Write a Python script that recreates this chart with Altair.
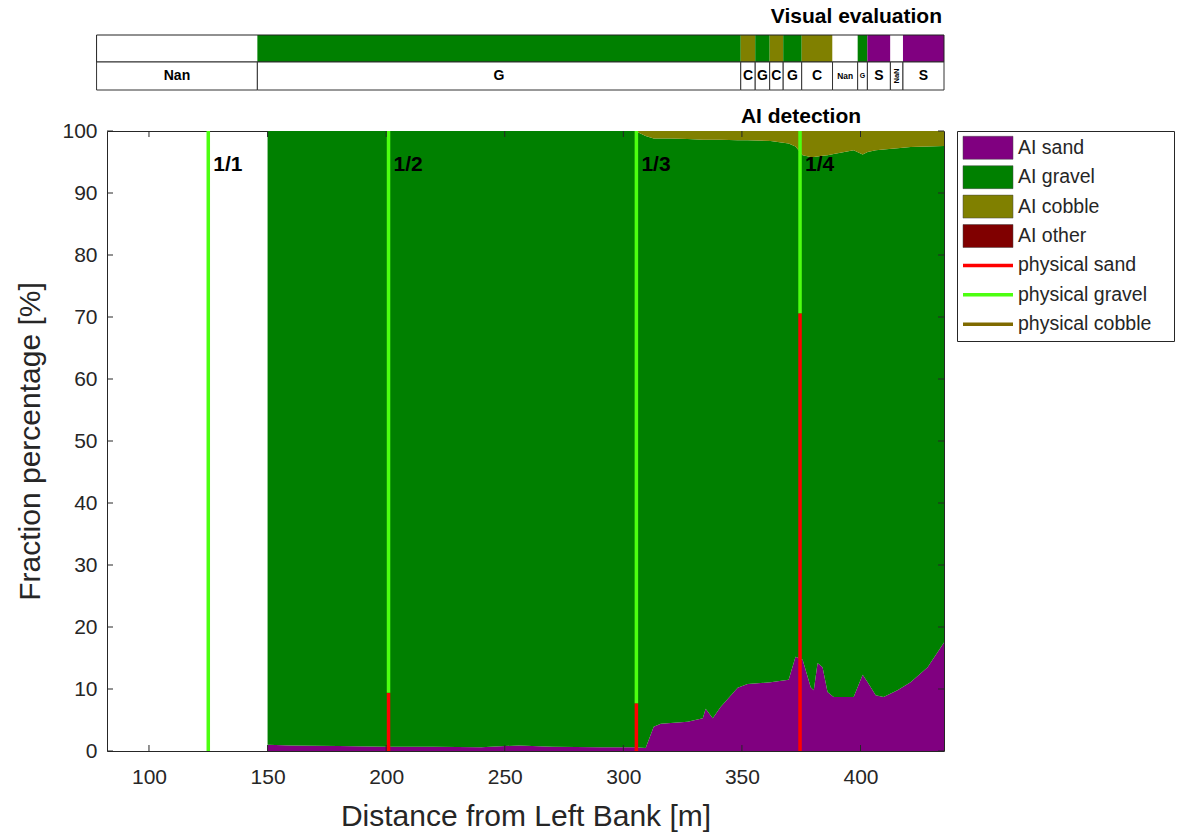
import altair as alt
import pandas as pd

# ---------------- data ----------------
# AI detection profile (percent of each class along the cross-section)
dist = [150, 160, 180, 200, 220, 240, 256, 270, 290, 305,
        309.4, 312.8, 315.8, 320, 327.1, 333.5, 334.7, 337.7, 341, 348.2,
        352.4, 362.1, 369.7, 372.6, 375.6, 379, 380.3, 381.9, 384, 386.1,
        388.7, 397.1, 400.9, 403, 406.4, 409.7, 415.6, 421.1, 428.3, 435.2]
ai_sand = [1.0, 0.9, 0.8, 0.7, 0.7, 0.6, 0.9, 0.7, 0.6, 0.6,
           0.5, 3.9, 4.4, 4.5, 4.7, 5.3, 6.8, 5.3, 7.1, 10.2,
           10.8, 11.1, 11.5, 15.2, 14.7, 10.3, 9.8, 14.2, 13.5, 9.5,
           8.7, 8.7, 12.3, 11.1, 9.0, 8.7, 9.8, 11.1, 13.5, 17.5]
ai_cobble = [0, 0, 0, 0, 0, 0, 0, 0, 0, 0,
             0.8, 1.2, 1.2, 1.2, 1.3, 1.4, 1.4, 1.4, 1.4, 1.5,
             1.5, 1.6, 2.0, 2.5, 3.9, 4.2, 4.2, 4.1, 4.0, 3.9,
             3.7, 3.1, 3.8, 3.4, 3.1, 3.0, 2.8, 2.6, 2.5, 2.4]

# physical samples
sample_pos = [125.0, 201.0, 305.5, 374.5]
sample_name = ["1/1", "1/2", "1/3", "1/4"]
phys_sand = [0.0, 9.4, 7.7, 70.6]
phys_gravel = [100.0, 90.6, 92.3, 29.4]
phys_cobble = [0.0, 0.0, 0.0, 0.0]

# visual evaluation strip
vis_start = [77.9, 145.7, 349.5, 355.6, 361.7, 367.4, 375.2, 388.2, 398.8, 402.9, 412.6, 417.9]
vis_end = [145.7, 349.5, 355.6, 361.7, 367.4, 375.2, 388.2, 398.8, 402.9, 412.6, 417.9, 435.2]
vis_class = ["Nan", "G", "C", "G", "C", "G", "C", "Nan", "G", "S", "NaN", "S"]

legend_labels = ["AI sand", "AI gravel", "AI cobble", "AI other",
                 "physical sand", "physical gravel", "physical cobble"]
legend_colors = ["#800080", "#008000", "#808000", "#800000",
                 "#ff0000", "#4dff10", "#7f6a00"]
vis_classes = ["G", "C", "S", "Nan", "NaN"]
vis_colors = ["#008000", "#808000", "#800080", "#ffffff", "#ffffff"]

x_ticks = [100, 150, 200, 250, 300, 350, 400]
y_ticks = [0, 10, 20, 30, 40, 50, 60, 70, 80, 90, 100]

# ---------------- layout constants ----------------
W, H = 837, 620
X_MIN, X_MAX = 82.3, 435.2
FONT = "Liberation Sans"
INK = "#262626"
PX_PER_M = W / (X_MAX - X_MIN)

# ---------------- tables ----------------
ai_gravel = [100 - s - c for s, c in zip(ai_sand, ai_cobble)]
rows = []
for cls, o, vals in [("AI sand", 0, ai_sand), ("AI gravel", 1, ai_gravel), ("AI cobble", 2, ai_cobble)]:
    for d, v in zip(dist, vals):
        rows.append({"dist": d, "frac": v, "cls": cls, "ord": o})
ai_df = pd.DataFrame(rows)

prow = []
for p, s, g, c in zip(sample_pos, phys_sand, phys_gravel, phys_cobble):
    lo = 0.0
    for cls, v in [("physical sand", s), ("physical gravel", g), ("physical cobble", c)]:
        if v > 0:
            prow.append({"pos": p, "lo": lo, "hi": lo + v, "cls": cls})
        lo += v
phys_df = pd.DataFrame(prow)
sample_df = pd.DataFrame({"pos": sample_pos, "name": sample_name})

vrows = []
for a, b, c in zip(vis_start, vis_end, vis_class):
    wpx = (b - a) * PX_PER_M
    ang = 0
    if len(c) == 1:
        fs = 14 if wpx >= 12 else 7
    elif wpx < 16:
        fs, ang = 7.5, 270
    else:
        fs = min(14, wpx / len(c))
    vrows.append({"start": a, "end": b, "mid": (a + b) / 2, "cls": c, "fs": fs, "ang": ang})
vis_df = pd.DataFrame(vrows)
vis_box = pd.DataFrame({"start": [min(vis_start)], "end": [max(vis_end)]})

# ---------------- scales / axes ----------------
xs = alt.Scale(domain=[X_MIN, X_MAX], nice=False, zero=False)
ys = alt.Scale(domain=[0, 100], nice=False, zero=True)
color_scale = alt.Scale(domain=legend_labels, range=legend_colors)

x_axis = alt.Axis(values=x_ticks, title="Distance from Left Bank [m]", ticks=False, domain=False,
                  grid=False, labelFontSize=21, titleFontSize=30, labelColor=INK, titleColor=INK,
                  labelFont=FONT, titleFont=FONT, titleFontWeight="normal", labelPadding=15,
                  titlePadding=14)
y_axis = alt.Axis(values=y_ticks, title="Fraction percentage [%]", ticks=False, domain=False,
                  grid=False, labelFontSize=21, titleFontSize=30, labelColor=INK, titleColor=INK,
                  labelFont=FONT, titleFont=FONT, titleFontWeight="normal", labelPadding=10,
                  titlePadding=16)

# ---------------- main panel ----------------
areas = alt.Chart(ai_df).mark_area(interpolate="linear").encode(
    x=alt.X("dist:Q", scale=xs, axis=x_axis),
    y=alt.Y("frac:Q", stack="zero", scale=ys, axis=y_axis),
    color=alt.Color("cls:N", scale=color_scale, legend=None),
    order=alt.Order("ord:Q"),
)

phys = alt.Chart(phys_df).mark_rule(strokeWidth=3.5).encode(
    x=alt.X("pos:Q", scale=xs),
    y=alt.Y("lo:Q", scale=ys),
    y2="hi:Q",
    color=alt.Color("cls:N", scale=color_scale, legend=None),
)

sample_lbl = alt.Chart(sample_df).mark_text(
    align="left", baseline="middle", dx=5, fontSize=21, fontWeight="bold", color="black", font=FONT
).encode(x=alt.X("pos:Q", scale=xs), y=alt.value(34), text="name:N")

xt = pd.DataFrame({"t": x_ticks})
yt = pd.DataFrame({"t": y_ticks})
tick_b = alt.Chart(xt).mark_rule(color=INK).encode(
    x=alt.X("t:Q", scale=xs), y=alt.value(H), y2=alt.value(H - 6))
tick_t = alt.Chart(xt).mark_rule(color=INK).encode(
    x=alt.X("t:Q", scale=xs), y=alt.value(0), y2=alt.value(6))
tick_l = alt.Chart(yt).mark_rule(color=INK).encode(
    y=alt.Y("t:Q", scale=ys), x=alt.value(0), x2=alt.value(6))
tick_r = alt.Chart(yt).mark_rule(color=INK).encode(
    y=alt.Y("t:Q", scale=ys), x=alt.value(W), x2=alt.value(W - 6))

# visual evaluation strip above the plot
strip_fill = alt.Chart(vis_df).mark_rect(strokeWidth=0).encode(
    x=alt.X("start:Q", scale=xs), x2="end:Q",
    y=alt.value(-96), y2=alt.value(-69),
    fill=alt.Fill("cls:N", scale=alt.Scale(domain=vis_classes, range=vis_colors), legend=None),
)
strip_box = alt.Chart(vis_box).mark_rect(fillOpacity=0, stroke="#222222", strokeWidth=1).encode(
    x=alt.X("start:Q", scale=xs), x2="end:Q", y=alt.value(-96), y2=alt.value(-69))
strip_cells = alt.Chart(vis_df).mark_rect(fill="white", stroke="#333333", strokeWidth=1).encode(
    x=alt.X("start:Q", scale=xs), x2="end:Q", y=alt.value(-69), y2=alt.value(-41))
strip_text = alt.Chart(vis_df).mark_text(
    align="center", baseline="middle", fontWeight="bold", color="black", font=FONT
).encode(
    x=alt.X("mid:Q", scale=xs), y=alt.value(-55), text="cls:N",
    size=alt.Size("fs:Q", scale=None), angle=alt.Angle("ang:Q", scale=None),
)

t_vis = alt.Chart(pd.DataFrame({"t": ["Visual evaluation"]})).mark_text(
    align="right", baseline="middle", fontSize=21, fontWeight="bold", color="black", font=FONT
).encode(x=alt.value(835), y=alt.value(-114), text="t:N")
t_ai = alt.Chart(pd.DataFrame({"t": ["AI detection"]})).mark_text(
    align="center", baseline="middle", fontSize=21, fontWeight="bold", color="black", font=FONT
).encode(x=alt.value(694), y=alt.value(-14), text="t:N")

main = alt.layer(
    areas, phys, tick_b, tick_t, tick_l, tick_r, sample_lbl,
    strip_fill, strip_box, strip_cells, strip_text, t_vis, t_ai
).properties(width=W, height=H)

# ---------------- legend panel ----------------
leg_df = pd.DataFrame({"label": legend_labels,
                       "kind": ["swatch"] * 4 + ["line"] * 3})
leg_scale = alt.Scale(domain=legend_labels, paddingInner=0.22, paddingOuter=0.18)

leg_rect = alt.Chart(leg_df).transform_filter("datum.kind == 'swatch'").mark_rect(
    stroke="#444444", strokeWidth=0.5
).encode(
    y=alt.Y("label:N", scale=leg_scale, axis=None),
    x=alt.value(6), x2=alt.value(56),
    color=alt.Color("label:N", scale=color_scale, legend=None),
)
leg_line = alt.Chart(leg_df).transform_filter("datum.kind == 'line'").mark_rule(strokeWidth=3.5).encode(
    y=alt.Y("label:N", scale=leg_scale, axis=None, bandPosition=0.5),
    x=alt.value(6), x2=alt.value(56),
    color=alt.Color("label:N", scale=color_scale, legend=None),
)
leg_text = alt.Chart(leg_df).mark_text(
    align="left", baseline="middle", fontSize=19.5, color=INK, font=FONT
).encode(
    y=alt.Y("label:N", scale=leg_scale, axis=None, bandPosition=0.5),
    x=alt.value(61), text="label:N",
)
legend = alt.layer(leg_rect, leg_line, leg_text).properties(width=217, height=210)

chart = alt.hconcat(
    main, legend, spacing=13, bounds="flush", background="white",
    padding={"left": 15, "right": 5, "top": 5, "bottom": 5},
).configure_view(stroke=INK, strokeWidth=1)

chart.save("out.html", embed_options={"renderer": "svg", "actions": False})
